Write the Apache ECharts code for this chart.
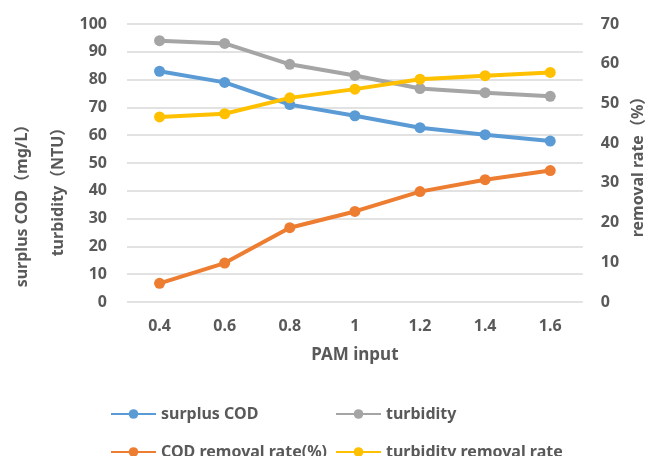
<!DOCTYPE html>
<html>
<head>
<meta charset="utf-8">
<script src="https://cdn.jsdelivr.net/npm/echarts@6/dist/echarts.min.js"></script>
<style>
  html, body { margin: 0; padding: 0; background: #fff; }
  #chart { width: 654px; height: 456px; }
</style>
</head>
<body>
<div id="chart"></div>
<script>
const categories = ["0.4", "0.6", "0.8", "1", "1.2", "1.4", "1.6"];
const surplusCOD = [83, 79, 71, 67, 62.7, 60.2, 57.9];
const turbidity = [94, 93, 85.5, 81.5, 76.8, 75.3, 74];
const codRemoval = [4.7, 9.8, 18.7, 22.8, 27.8, 30.8, 33.1];
const turbidityRemoval = [46.6, 47.4, 51.4, 53.6, 56.1, 57.0, 57.8];

const textColor = "#595959";
const font = "'Noto Sans', 'Noto Sans CJK SC', sans-serif";

const chart = echarts.init(document.getElementById("chart"));

// one line series, same look for all four
const makeLine = (name, data, color, axis) => ({
  name,
  type: "line",
  data,
  yAxisIndex: axis,
  symbol: "circle",
  symbolSize: 11,
  lineStyle: { width: 4, color },
  itemStyle: { color },
});

// legend item placed by hand, two rows of two
const makeLegend = (name, left, top) => ({
  data: [name],
  left,
  top,
  itemWidth: 45,
  itemHeight: 12,
  itemGap: 2,
  textStyle: { color: textColor, fontWeight: "bold", fontSize: 16, fontFamily: font },
});

const option = {
  animation: false,
  grid: { left: 127, right: 71, top: 24, bottom: 154 },
  xAxis: {
    type: "category",
    data: categories,
    name: "PAM input",
    nameLocation: "middle",
    nameGap: 45,
    nameTextStyle: { color: textColor, fontWeight: "bold", fontSize: 17, fontFamily: font },
    axisLine: { show: false },
    axisTick: { show: false },
    axisLabel: { color: textColor, fontWeight: "bold", fontSize: 16, margin: 16, fontFamily: font },
  },
  yAxis: [
    {
      type: "value",
      min: 0,
      max: 100,
      interval: 10,
      axisLabel: { color: textColor, fontWeight: "bold", fontSize: 16, margin: 20, fontFamily: font },
      splitLine: { lineStyle: { color: "#d9d9d9", width: 1.5 } },
    },
    {
      type: "value",
      min: 0,
      max: 70,
      interval: 10,
      name: "removal rate（%）",
      nameLocation: "middle",
      nameRotate: 90,
      nameGap: 47,
      nameTextStyle: { color: textColor, fontWeight: "bold", fontSize: 16, fontFamily: font },
      axisLabel: { color: textColor, fontWeight: "bold", fontSize: 16, margin: 18, fontFamily: font },
      splitLine: { show: false },
    },
  ],
  graphic: [
    {
      type: "text",
      x: 22,
      y: 202,
      rotation: Math.PI / 2,
      style: {
        text: "surplus COD（mg/L）",
        fill: textColor,
        font: "bold 16px " + font,
        align: "center",
        verticalAlign: "middle",
      },
    },
    {
      type: "text",
      x: 58,
      y: 188,
      rotation: Math.PI / 2,
      style: {
        text: "turbidity（NTU）",
        fill: textColor,
        font: "bold 16px " + font,
        align: "center",
        verticalAlign: "middle",
      },
    },
  ],
  legend: [
    makeLegend("surplus COD", 105, 401),
    makeLegend("turbidity", 330, 401),
    makeLegend("COD removal rate(%)", 105, 439),
    makeLegend("turbidity removal rate", 330, 439),
  ],
  series: [
    makeLine("surplus COD", surplusCOD, "#5b9bd5", 0),
    makeLine("turbidity", turbidity, "#a5a5a5", 0),
    makeLine("COD removal rate(%)", codRemoval, "#ed7d31", 1),
    makeLine("turbidity removal rate", turbidityRemoval, "#ffc000", 1),
  ],
};

chart.setOption(option);
</script>
</body>
</html>
